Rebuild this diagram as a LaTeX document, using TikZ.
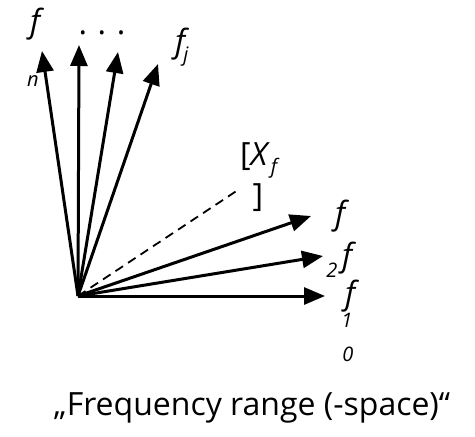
\documentclass[tikz,border=0pt]{standalone}
\usepackage{fontspec}
\setmainfont{Open Sans}
\usetikzlibrary{arrows.meta}

\begin{document}
\begin{tikzpicture}[x=1pt,y=-1pt,
    vec/.style={line width=3pt,-{Triangle[length=21pt,width=17pt]}},
    lbl/.style={font=\fontsize{32}{38}\selectfont\itshape,inner sep=0pt},
    idx/.style={font=\fontsize{20}{24}\selectfont\itshape,inner sep=0pt}]
    \useasboundingbox (0,0) rectangle (475,437);
    \coordinate (o) at (78,296);
    % tips of the vectors
    \coordinate (fn) at (42,51);
    \coordinate (fdots) at (79,45);
    \coordinate (fm) at (118,52);
    \coordinate (fj) at (158,64);
    \coordinate (xf) at (238,190);
    \coordinate (f2) at (311,216);
    \coordinate (f1) at (323,256);
    \coordinate (f0) at (325,296);
    \foreach \t in {fn,fdots,fm,fj,f2,f1,f0}
      \draw[vec] (o) -- (\t);
    \draw[dash pattern=on 9pt off 6pt,line width=1.8pt] (o) -- (xf);
    % labels
    \node[lbl] (fnf) at (35,24) {f};
    \node[idx] (fnn) at (33,81) {n};
    \node[font=\fontsize{32}{38}\selectfont,inner sep=0pt] (dots) at (102,33) {.\,\,.\,\,.};
    \node[lbl] (fjf) at (180,44) {f};
    \node[idx] (fjj) at (186,57) {j};
    \node[font=\fontsize{32}{38}\selectfont,inner sep=0pt] (xfl) at (255,157) {[\textit{X}};
    \node[idx] (xff) at (274,168) {f};
    \node[font=\fontsize{32}{38}\selectfont,inner sep=0pt] (xfr) at (258,198) {]};
    \node[lbl] (f2f) at (340,216) {f};
    \node[idx] (f22) at (332,270) {2};
    \node[lbl] (f1f) at (347,258) {f};
    \node[idx] (f11) at (347,320) {1};
    \node[lbl] (f0f) at (350,296) {f};
    \node[idx] (f00) at (348,354) {0};
    \node[font=\fontsize{32}{38}\selectfont] (cap) at (252,408) {„Frequency range (-space)“};
\end{tikzpicture}
\end{document}
